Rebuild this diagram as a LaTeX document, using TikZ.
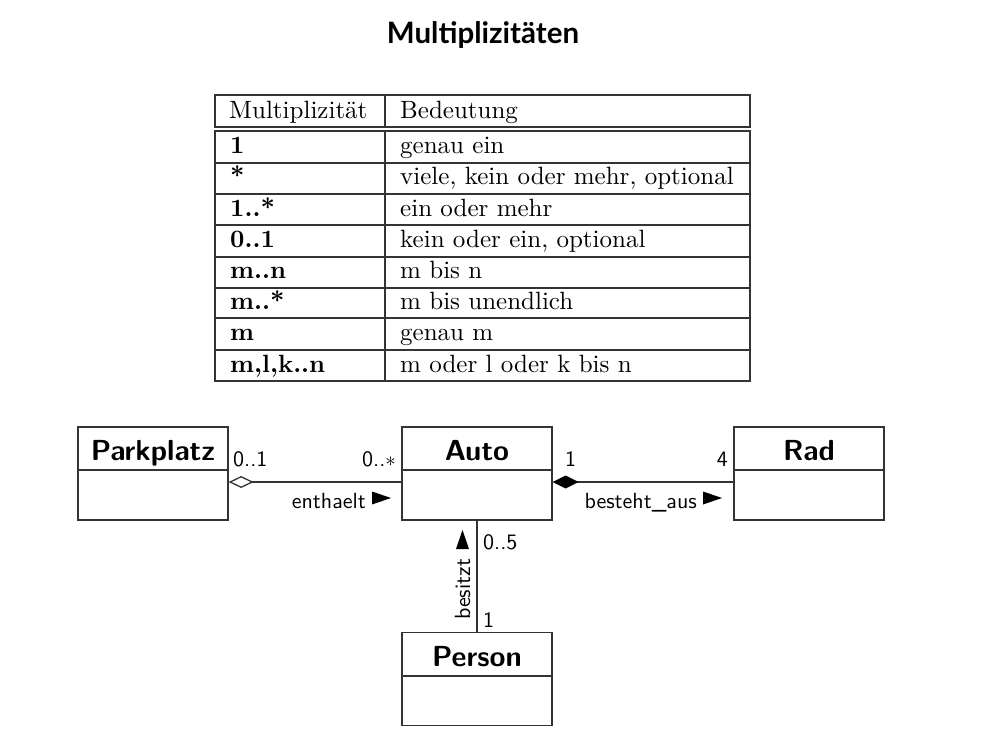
\documentclass[tikz,border=0pt]{standalone}
\usepackage{fontspec}
\setmainfont{lmroman10-regular.otf}[BoldFont=lmroman10-bold.otf]
\setsansfont{lmsans10-regular.otf}[BoldFont=lmsans10-bold.otf]
\newfontfamily\titlefont{Lato}
\usetikzlibrary{arrows.meta}
\definecolor{ln}{HTML}{333333}
\tikzset{
  tline/.style={draw=ln, line width=1.3pt},
  ttext/.style={anchor=base west, inner sep=0pt, font=\fontsize{25}{28}\selectfont},
  tbold/.style={ttext, font=\fontsize{25}{28}\selectfont\bfseries},
  cls/.style={draw=ln, line width=1.3pt, minimum width=150pt, minimum height=93pt, inner sep=0pt},
  cname/.style={inner sep=0pt, anchor=base, font=\fontsize{29}{32}\selectfont\sffamily\bfseries},
  lbl/.style={inner sep=0pt, font=\fontsize{22}{25}\selectfont\sffamily},
  assoc/.style={draw=ln, line width=1.3pt},
}
\begin{document}
\begin{tikzpicture}[x=1pt,y=-1pt]
\useasboundingbox (0,0) rectangle (983,736);
% title
\node[inner sep=0pt, anchor=base, font=\fontsize{29.5}{33}\selectfont\titlefont\bfseries] (title) at (483,43) {Multiplizitäten};
% table frame
\draw[tline] (215,95) rectangle (750,127);
\draw[tline] (215,131) rectangle (750,381);
\draw[tline] (385,95) -- (385,127);
\draw[tline] (385,131) -- (385,381);
\foreach \yy in {163,194,225,257,288,318,350} \draw[tline] (215,\yy) -- (750,\yy);
% header
\node[ttext] (h1) at (229,118) {Multiplizität};
\node[ttext] (h2) at (400,118) {Bedeutung};
% rows
\node[tbold] (r1a) at (230,153) {1};
\node[ttext] (r1b) at (400,153) {genau ein};
\node[tbold] (r2a) at (230,184) {*};
\node[ttext] (r2b) at (400,184) {viele, kein oder mehr, optional};
\node[tbold] (r3a) at (230,216) {1..*};
\node[ttext] (r3b) at (400,216) {ein oder mehr};
\node[tbold] (r4a) at (230,247) {0..1};
\node[ttext] (r4b) at (400,247) {kein oder ein, optional};
\node[tbold] (r5a) at (230,278) {m..n};
\node[ttext] (r5b) at (400,278) {m bis n};
\node[tbold] (r6a) at (230,309) {m..*};
\node[ttext] (r6b) at (400,309) {m bis unendlich};
\node[tbold] (r7a) at (230,340) {m};
\node[ttext] (r7b) at (400,340) {genau m};
\node[tbold] (r8a) at (230,372) {m,l,k..n};
\node[ttext] (r8b) at (400,372) {m oder l oder k bis n};
% classes
\node[cls] (park) at (153,473.5) {};
\node[cls] (auto) at (477,473.5) {};
\node[cls] (rad) at (809,473.5) {};
\node[cls] (person) at (477,679) {};
\draw[tline] (78,470) -- (228,470);
\draw[tline] (402,470) -- (552,470);
\draw[tline] (734,470) -- (884,470);
\draw[tline] (402,676) -- (552,676);
\node[cname] (parkn) at (153,460) {Parkplatz};
\node[cname] (auton) at (477,460) {Auto};
\node[cname] (radn) at (809,460) {Rad};
\node[cname] (personn) at (477,666) {Person};
% associations
\draw[assoc, {Diamond[open,length=25pt,width=12pt]}-] ([yshift=-8.5pt]park.east) -- ([yshift=-8.5pt]auto.west);
\draw[assoc, {Diamond[length=26pt,width=13pt,fill=black,color=black]}-] ([yshift=-8.5pt]auto.east) -- ([yshift=-8.5pt]rad.west);
\draw[assoc] (auto) -- (person);
% multiplicities
\node[lbl, anchor=base west] (m1) at (233,466) {0..1};
\node[lbl, anchor=base east] (m2) at (396,466) {0..$*$};
\node[lbl, anchor=base west] (m3) at (565,466) {1};
\node[lbl, anchor=base east] (m4) at (728,466) {4};
\node[lbl, anchor=base west] (m5) at (483,549) {0..5};
\node[lbl, anchor=base west] (m6) at (483,627) {1};
% association names
\node[lbl, anchor=base east] (enth) at (366,508) {enthaelt};
\fill[black] (372,491.5) -- (391,498) -- (372,504.5) -- cycle;
\node[lbl, anchor=base east] (best) at (697,508) {besteht\_aus};
\fill[black] (703,491.5) -- (722,498) -- (703,504.5) -- cycle;
\node[lbl, anchor=base west, rotate=90] (bes) at (470,620) {besitzt};
\fill[black] (456,549) -- (462.5,530) -- (469,549) -- cycle;
\end{tikzpicture}
\end{document}
